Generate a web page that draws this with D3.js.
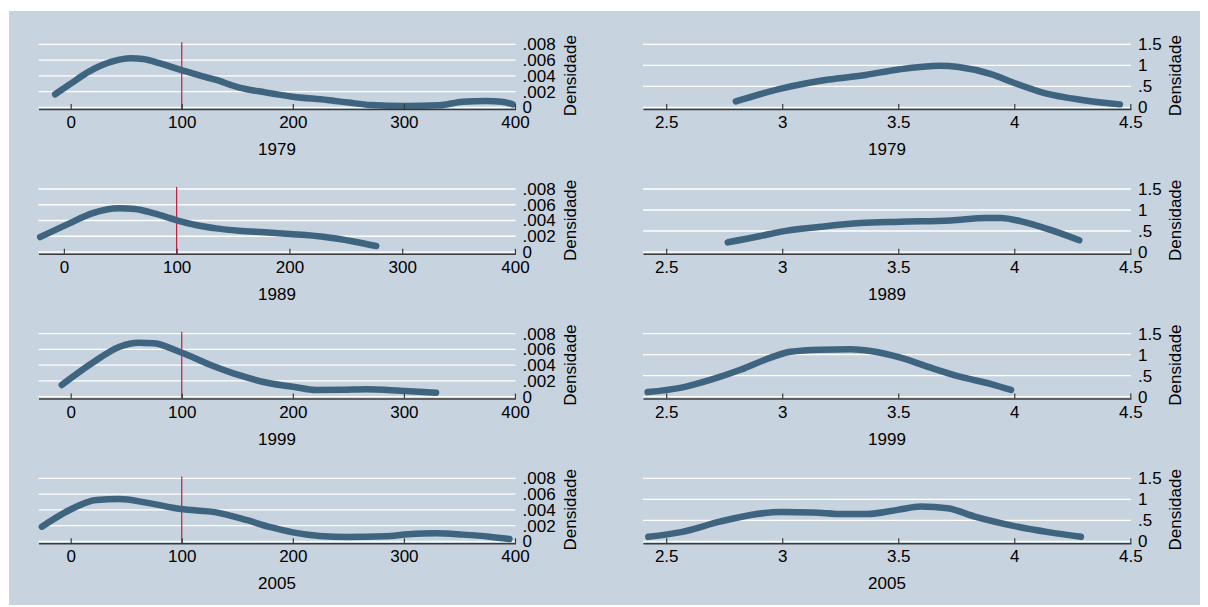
<!DOCTYPE html>
<html>
<head>
<meta charset="utf-8">
<script src="https://cdn.jsdelivr.net/npm/d3@7"></script>
<style>
  html, body { margin: 0; padding: 0; background: #ffffff; }
  svg { display: block; }
  text { font-family: "Liberation Sans", Arial, sans-serif; fill: #000; }
</style>
</head>
<body>
<svg id="chart" width="1208" height="607"></svg>
<script>
// Years shown in each row of panels
const years = ["1979", "1989", "1999", "2005"];

// Axis ticks
const xTicksLeft = [0, 100, 200, 300, 400];
const xTicksRight = [2.5, 3, 3.5, 4, 4.5];
const yTicksLeft = [0, 0.002, 0.004, 0.006, 0.008];
const yTicksRight = [0, 0.5, 1, 1.5];
const refLineLeft = 100;

// Axis extents of each row (left column) and of the right column
const xExtentLeft = [[-29, 400.5], [-22.5, 400.5], [-29, 400.5], [-29, 400.5]];
const xExtentRight = [2.4, 4.503];

// Kernel density estimates, left column (level)
const leftX1979 = [-14, 0, 16, 37, 54, 65, 80, 99, 115, 131, 151, 175, 200, 231, 250, 270, 301, 332, 353, 374, 388, 398];
const leftD1979 = [0.00165, 0.0030, 0.0045, 0.00579, 0.00622, 0.00613, 0.0056, 0.00474, 0.0041, 0.00347, 0.00254, 0.0019, 0.00135, 0.00093, 0.0006, 0.00029, 0.00017, 0.00025, 0.00071, 0.0008, 0.00071, 0.00038];

const leftX1989 = [-21, 5, 25, 49, 63, 80, 99.5, 118, 135, 155, 178, 200, 230, 258, 277];
const leftD1989 = [0.0019, 0.00364, 0.00491, 0.00555, 0.00546, 0.0049, 0.00406, 0.0034, 0.0030, 0.0027, 0.0025, 0.00229, 0.00194, 0.00131, 0.00076];

const leftX1999 = [-8, 19, 44, 61, 75, 99, 130, 151, 179, 200, 221, 245, 266, 297, 329];
const leftD1999 = [0.00149, 0.00424, 0.00635, 0.00686, 0.00678, 0.00564, 0.00381, 0.00276, 0.0017, 0.00127, 0.00085, 0.00088, 0.00094, 0.00076, 0.00051];

const leftX2005 = [-26, -1, 23, 44, 68, 99, 131, 158, 180, 200, 224, 249, 283, 304, 329, 353, 377, 395];
const leftD2005 = [0.00187, 0.00399, 0.00526, 0.00538, 0.00492, 0.00411, 0.00369, 0.00272, 0.0018, 0.00115, 0.00069, 0.00056, 0.00065, 0.0009, 0.00103, 0.00086, 0.0006, 0.0003];

// Kernel density estimates, right column (log scale)
const rightX1979 = [2.8, 3.0, 3.2, 3.36, 3.5, 3.68, 3.76, 3.9, 4.0, 4.13, 4.3, 4.455];
const rightD1979 = [0.14, 0.45, 0.66, 0.77, 0.9, 0.99, 0.96, 0.79, 0.58, 0.34, 0.17, 0.07];

const rightX1989 = [2.765, 2.906, 2.99, 3.165, 3.338, 3.51, 3.727, 3.878, 3.943, 4.03, 4.159, 4.28];
const rightD1989 = [0.23, 0.38, 0.48, 0.6, 0.69, 0.72, 0.75, 0.81, 0.81, 0.73, 0.52, 0.28];

const rightX1999 = [2.42, 2.56, 2.69, 2.82, 2.95, 3.035, 3.165, 3.295, 3.38, 3.51, 3.64, 3.77, 3.9, 3.986];
const rightD1999 = [0.11, 0.21, 0.4, 0.64, 0.93, 1.07, 1.12, 1.13, 1.09, 0.93, 0.69, 0.47, 0.3, 0.16];

const rightX2005 = [2.423, 2.564, 2.731, 2.864, 2.997, 3.13, 3.263, 3.364, 3.497, 3.597, 3.713, 3.83, 3.996, 4.146, 4.287];
const rightD2005 = [0.11, 0.22, 0.47, 0.63, 0.7, 0.69, 0.65, 0.65, 0.75, 0.83, 0.79, 0.59, 0.37, 0.22, 0.11];

const leftSeries = [[leftX1979, leftD1979], [leftX1989, leftD1989], [leftX1999, leftD1999], [leftX2005, leftD2005]];
const rightSeries = [[rightX1979, rightD1979], [rightX1989, rightD1989], [rightX1999, rightD1999], [rightX2005, rightD2005]];

// ---- layout ----
const svg = d3.select("#chart");
const bg = "#c7d3df";
const curveColor = "#3e6480";
const refColor = "#c0102e";

svg.append("rect").attr("x", 9).attr("y", 11).attr("width", 1191).attr("height", 594).attr("fill", bg);

const rowZero = [107.3, 252, 396.7, 541.4]; // pixel row of density 0 in each row
const plotH = 63;          // from 0 to the top gridline
const columns = [
  { left: 38.5, right: 515.5, ticks: yTicksLeft, top: 0.008, xt: xTicksLeft, series: leftSeries, titleX: 570, ref: true },
  { left: 643, right: 1131, ticks: yTicksRight, top: 1.5, xt: xTicksRight, series: rightSeries, titleX: 1175, ref: false }
];

const fmtY = d => d === 0 ? "0" : String(d).replace(/^0\./, ".");
const fmtX = d => String(d);

columns.forEach((col, ci) => {
  years.forEach((yr, ri) => {
    const y0 = rowZero[ri];
    const g = svg.append("g");
    const x = d3.scaleLinear()
      .domain(ci === 0 ? xExtentLeft[ri] : xExtentRight)
      .range([col.left, col.right]);
    const y = d3.scaleLinear().domain([0, col.top]).range([y0, y0 - plotH]);

    // gridlines
    g.selectAll("line.grid").data(col.ticks).join("line")
      .attr("class", "grid")
      .attr("x1", col.left).attr("x2", col.right)
      .attr("y1", d => y(d)).attr("y2", d => y(d))
      .attr("stroke", "#ffffff").attr("stroke-width", 1.3);

    // reference line
    if (col.ref) {
      g.append("line")
        .attr("x1", x(refLineLeft)).attr("x2", x(refLineLeft))
        .attr("y1", y0 - plotH - 2).attr("y2", y0 + 1.8)
        .attr("stroke", refColor).attr("stroke-width", 1.1);
    }

    // density curve
    const [xs, ds] = col.series[ri];
    const pts = xs.map((v, i) => [v, ds[i]]);
    g.append("path")
      .datum(pts)
      .attr("fill", "none")
      .attr("stroke", curveColor)
      .attr("stroke-width", 6.5)
      .attr("stroke-linecap", "round")
      .attr("stroke-linejoin", "round")
      .attr("d", d3.line().x(d => x(d[0])).y(d => y(d[1])).curve(d3.curveMonotoneX));

    // x axis
    const ax = g.append("g")
      .attr("transform", `translate(0,${y0 + 1.8})`)
      .call(d3.axisBottom(x).tickValues(col.xt).tickFormat(fmtX)
        .tickSizeInner(-5).tickSizeOuter(0).tickPadding(7));
    ax.select(".domain").attr("stroke", "#3a3a3a").attr("stroke-width", 1.5);
    ax.selectAll(".tick line").attr("stroke", "#3a3a3a").attr("stroke-width", 1.2);
    ax.selectAll(".tick text").style("font-size", "17px").attr("fill", "#000");

    // y axis on the right
    const ay = g.append("g")
      .attr("transform", `translate(${col.right},0)`)
      .call(d3.axisRight(y).tickValues(col.ticks).tickFormat(fmtY)
        .tickSize(0).tickPadding(7));
    ay.select(".domain").remove();
    ay.selectAll(".tick text").style("font-size", "17px").attr("fill", "#000");

    // axis title
    g.append("text")
      .attr("transform", `translate(${col.titleX},${y0 + 1.8 - (plotH + 3.8) / 2}) rotate(-90)`)
      .attr("text-anchor", "middle")
      .attr("dominant-baseline", "central")
      .style("font-size", "17px")
      .text("Densidade");

    // year caption
    g.append("text")
      .attr("x", (col.left + col.right) / 2)
      .attr("y", y0 + 48)
      .attr("text-anchor", "middle")
      .style("font-size", "17px")
      .text(yr);
  });
});
</script>
</body>
</html>
